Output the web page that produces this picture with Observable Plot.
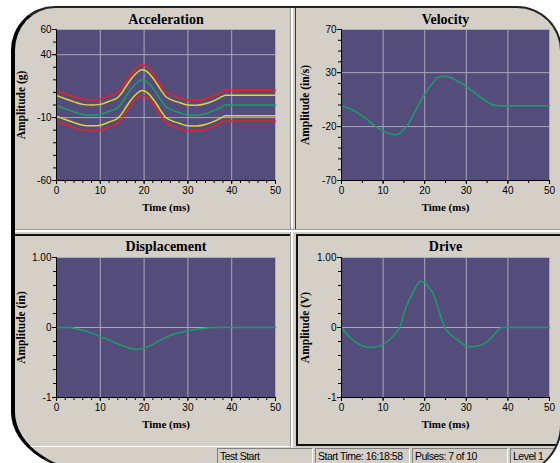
<!DOCTYPE html>
<html><head><meta charset="utf-8">
<script src="https://cdn.jsdelivr.net/npm/d3@7"></script>
<script src="https://cdn.jsdelivr.net/npm/@observablehq/plot@0.6"></script>
<style>
html,body{margin:0;padding:0;background:#fff;width:560px;height:463px;overflow:hidden;}
#frame{position:absolute;left:11px;top:6px;width:551px;height:470px;box-sizing:border-box;
  border-top:2px solid #222;border-left:4px solid #000;border-right:2px solid #222;border-bottom:2px solid #222;
  border-radius:44px 45px 51px 98px / 44px 45px 51px 64px;background:#d4d0c8;overflow:hidden;}
.pane{position:absolute;box-sizing:border-box;height:22px;border-top:1px solid #808080;border-left:1px solid #808080;
  border-right:1px solid #fff;border-bottom:1px solid #fff;font:10.5px "Liberation Sans",Arial,sans-serif;letter-spacing:-0.5px;
  color:#000;padding:1px 0 0 2px;white-space:nowrap;line-height:12px;overflow:hidden;}
</style></head><body>
<div id="frame"></div>
<script>
// ---------- data ----------
const xTicks = [0, 10, 20, 30, 40, 50];
const xGridTicks = [10, 20, 30, 40];

const accTime = [0,2,4,6,8,10,12,14,15,16,17,18,19,19.5,20,21,22,23,24,25,26,28,30,32,34,36,38,38.5,40,45,50];
const accRef      = [-0.5,-3,-5.5,-7.5,-8,-7.5,-5,-2, 2,7.5,12.5,16.5,19.3,20,19.8, 17.5,13.5,8.5,3,-1.5,-3.5, -6,-8,-8.2,-7,-4.5,-1,0, 0,0,0];
const accWarnHigh = [7.5,5,2.5,0.5,0,0.5,3,6, 10,15.5,20.5,24.5,27.3,28,27.8, 25.5,21.5,16.5,11,6.5,4.5, 2,0,-0.2,1,3.5,7,7.8, 7.8,7.8,7.8];
const accWarnLow  = [-9,-11.5,-14,-16,-16.5,-16,-13.5,-10.5, -6.5,-1,4,8,10.8,11.5,11.3, 9,5,0,-5.5,-10,-12, -14.5,-16.5,-16.7,-15.5,-13,-9.5,-8.6, -8.6,-8.6,-8.6];
const accAbortHigh= [11.5,9,6.5,4.5,4,4.5,7,10, 14,19.5,24.5,28.5,31.3,32,31.8, 29.5,25.5,20.5,15,10.5,8.5, 6,4,3.8,5,7.5,11,11.8, 11.8,11.8,11.8];
const accAbortLow = [-13,-15.5,-18,-20,-20.5,-20,-17.5,-14.5, -10.5,-5,0,4,6.8,7.5,7.3, 5,1,-4,-9.5,-14,-16, -18.5,-20.5,-20.7,-19.5,-17,-13.5,-12.7, -12.7,-12.7,-12.7];
const accYTicks = [60, 40, -10, -60];
const accYGrid = [40, -10];

const velTime = [0,2,4,6,8,10,12,13,14,15,16,17,18,19,20,21,22,23,24,25,26,27,28,29,30,32,34,36,37,38,40,45,50];
const velValues = [-0.6,-3.5,-7.5,-13,-19.3,-24,-27,-27.6,-26.5,-22.5,-18.2,-11,-3.5,3.5,10,16,20.5,25.4,26.4,26.6,25.7,24,22,19.8,17,11.5,5.6,0.7,-0.3,-0.6,-0.6,-0.6,-0.6];
const velYTicks = [70, 30, -20, -70];
const velYGrid = [30, -20];

const dispTime = [0,2,3,4,6,8,10,12,14,16,18,19,20,22,24,26,28,30,32,34,36,40,45,50];
const dispValues = [0,0,0,-0.01,-0.04,-0.08,-0.13,-0.18,-0.235,-0.28,-0.31,-0.31,-0.295,-0.24,-0.17,-0.11,-0.075,-0.05,-0.025,-0.01,0,0,0,0];

const driveTime = [0,2,4,6,7,8,10,12,13,14,15,16,17,18,19,20,21,22,23,24,25,26,28,30,31,32,34,36,38,38.5,40,50];
const driveValues = [0,-0.14,-0.23,-0.28,-0.285,-0.28,-0.24,-0.15,-0.08,0,0.2,0.36,0.48,0.59,0.66,0.64,0.57,0.49,0.32,0.13,-0.02,-0.09,-0.18,-0.26,-0.275,-0.27,-0.24,-0.15,-0.02,0,0,0];
const unitYTicks = [1, 0, -1];
const unitYGrid = [0];

const statusTexts = ["Test Start", "Start Time: 16:18:58", "Pulses: 7 of 10", "Level 1"];

// ---------- styles ----------
const BG = "#544d7b";
const GRID = "#aaa6b8";
const GREEN = "#1b9d6b";
const YELLOW = "#e2d432";
const RED = "#e5222a";
const SANS = "'Liberation Sans', Arial, sans-serif";
const SERIF = "'Liberation Serif', 'Times New Roman', serif";
const fmt = d => d === 1 ? "1.00" : String(d);

function panel(o) {
  return Plot.plot({
    width: o.width, height: o.height,
    marginLeft: o.ml, marginRight: o.mr, marginTop: o.mt, marginBottom: o.mb,
    style: {background: "transparent", overflow: "visible"},
    x: {domain: [0, 50]},
    y: {domain: o.yDomain},
    marks: [
      Plot.frame({fill: BG, stroke: "#aeaabf"}),
      Plot.gridX({ticks: xGridTicks, stroke: GRID, strokeOpacity: 1}),
      Plot.gridY({ticks: o.yGrid, stroke: GRID, strokeOpacity: 1}),
      ...o.series.map(s => Plot.line(s.t, {x: s.t, y: s.v, stroke: s.color, strokeWidth: 1.5, curve: "monotone-x"})),
      Plot.ruleX([0], {stroke: "#000"}),
      Plot.ruleY([o.yDomain[0]], {stroke: "#000"}),
      Plot.axisX({ticks: o.xMinor, tickSize: 3, tickFormat: () => "", label: null, color: "#000"}),
      Plot.axisX({ticks: xTicks, tickSize: 4, tickPadding: 2, label: null, fontSize: 10, fontFamily: SANS, color: "#000", tickFormat: fmt}),
      Plot.axisY({ticks: o.yMinor, tickSize: 3, tickFormat: () => "", label: null, color: "#000"}),
      Plot.axisY({ticks: o.yTicks, tickSize: 4, tickPadding: 1, label: null, fontSize: 10, fontFamily: SANS, color: "#000", tickFormat: fmt}),
      Plot.text([o.title], {text: d => d, frameAnchor: "top", dy: o.titleDy, lineAnchor: "bottom", textAnchor: "middle",
        fontFamily: SERIF, fontWeight: "bold", fontSize: 14, fill: "#000"}),
      Plot.text(["Time (ms)"], {text: d => d, frameAnchor: "bottom", dy: 30, lineAnchor: "bottom", textAnchor: "middle",
        fontFamily: SERIF, fontWeight: "bold", fontSize: 11, fill: "#000"}),
      Plot.text([o.ylabel], {text: d => d, frameAnchor: "left", dx: o.labelDx, rotate: -90, textAnchor: "middle", lineAnchor: "middle",
        fontFamily: SERIF, fontWeight: "bold", fontSize: 11.5, fill: "#000"})
    ]
  });
}

const frame = document.getElementById("frame");
const OX = 15, OY = 8; // padding-box origin of the frame
function place(el, x, y) {
  el.style.position = "absolute";
  el.style.left = (x - OX) + "px";
  el.style.top = (y - OY) + "px";
  frame.appendChild(el);
  return el;
}
function box(x, y, w, h, css) {
  const d = document.createElement("div");
  d.style.width = w + "px"; d.style.height = h + "px";
  d.style.boxSizing = "border-box";
  Object.assign(d.style, css);
  return place(d, x, y);
}

// decorative separators
box(290, 8, 1, 440, {background: "#9c9890"});
box(291, 8, 2, 440, {background: "#ffffff"});
box(295, 8, 1, 221, {background: "#3a3a3a"});
box(15, 229, 560, 1, {background: "#9c9890"});
box(15, 230, 560, 2, {background: "#ffffff"});
box(15, 234, 275, 2, {background: "#111"});
box(296, 234, 280, 212, {border: "2px solid #111"});
box(15, 446, 278, 1, {background: "#ffffff"});

const small = {width: 275, ml: 41, mr: 15};
const wide = {width: 263, ml: 44, mr: 11};

place(panel({...small, height: 220, mt: 21, mb: 48, titleDy: -6, labelDx: -35.3,
  title: "Acceleration", ylabel: "Amplitude (g)", yDomain: [-60, 60],
  yTicks: accYTicks, yMinor: d3.range(-60, 61, 10), yGrid: accYGrid, xMinor: d3.range(0, 51, 2),
  series: [
    {t: accTime, v: accAbortHigh, color: RED},
    {t: accTime, v: accAbortLow, color: RED},
    {t: accTime, v: accWarnHigh, color: YELLOW},
    {t: accTime, v: accWarnLow, color: YELLOW},
    {t: accTime, v: accRef, color: GREEN}
  ]}), 15, 8);

place(panel({...wide, height: 220, mt: 21, mb: 48, titleDy: -6, labelDx: -36,
  title: "Velocity", ylabel: "Amplitude (in/s)", yDomain: [-70, 70],
  yTicks: velYTicks, yMinor: d3.range(-70, 71, 10), yGrid: velYGrid, xMinor: d3.range(0, 51, 5),
  series: [{t: velTime, v: velValues, color: GREEN}]}), 297, 8);

place(panel({...small, height: 209, mt: 21, mb: 48, titleDy: -7, labelDx: -35.3,
  title: "Displacement", ylabel: "Amplitude (in)", yDomain: [-1, 1],
  yTicks: unitYTicks, yMinor: d3.range(-1, 1.01, 0.2), yGrid: unitYGrid, xMinor: d3.range(0, 51, 2),
  series: [{t: dispTime, v: dispValues, color: GREEN}]}), 15, 236);

place(panel({...wide, height: 209, mt: 21, mb: 48, titleDy: -7, labelDx: -36,
  title: "Drive", ylabel: "Amplitude (V)", yDomain: [-1, 1],
  yTicks: unitYTicks, yMinor: d3.range(-1, 1.01, 0.2), yGrid: unitYGrid, xMinor: d3.range(0, 51, 5),
  series: [{t: driveTime, v: driveValues, color: GREEN}]}), 297, 236);

// status bar panes
const paneX = [217, 315, 412, 510];
const paneW = [96, 95, 96, 60];
statusTexts.forEach((s, i) => {
  const d = document.createElement("div");
  d.className = "pane";
  d.textContent = s;
  d.style.width = paneW[i] + "px";
  place(d, paneX[i], 448);
});
</script></body></html>
